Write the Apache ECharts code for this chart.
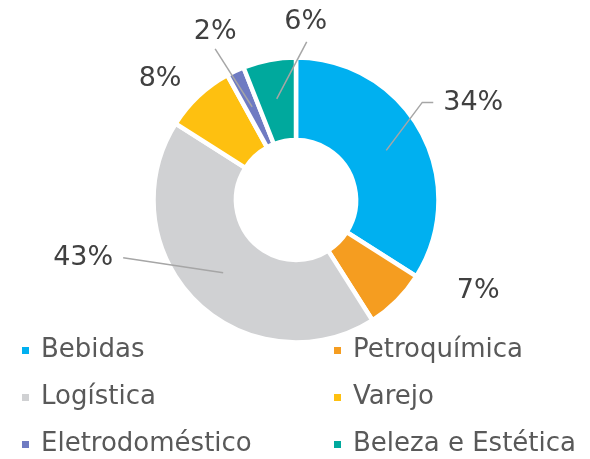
<!DOCTYPE html>
<html>
<head>
<meta charset="utf-8">
<script src="https://cdn.jsdelivr.net/npm/echarts@6/dist/echarts.min.js"></script>
<style>
html, body { margin: 0; padding: 0; background: #fff; }
#chart { width: 590px; height: 459px; }
</style>
</head>
<body>
<div id="chart"></div>
<script>
const categories = ['Bebidas', 'Petroquímica', 'Logística', 'Varejo', 'Eletrodoméstico', 'Beleza e Estética']
const shares = [34, 7, 43, 8, 2, 6]
const colors = ['#00B0F0', '#F59D20', '#D0D1D3', '#FEC010', '#6F7BC2', '#00A99D']

const leftLegend = ['Bebidas', 'Logística', 'Eletrodoméstico']
const rightLegend = ['Petroquímica', 'Varejo', 'Beleza e Estética']

const fontFamily = 'DejaVu Sans'
const cx = 296
const cy = 200
const leadRadius = 103

// where each label sits, as offsets from the start of its leader (tuned by eye)
const labelPlacement = [
  { line: [[36, -48], [47, -48]], text: [57, -47], align: 'left' },
  { line: null, text: [88, 18], align: 'left' },
  { line: [[-100, -15]], text: [-110, -15], align: 'right' },
  { line: null, text: [-44, -46], align: 'right' },
  { line: [[-37, -58]], text: [-37, -75], align: 'center' },
  { line: [[30, -57]], text: [29, -77], align: 'center' }
]

const total = shares.reduce((a, b) => a + b, 0)
let acc = 0
const leadStart = shares.map(v => {
  const mid = (90 - 360 * (acc + v / 2) / total) * Math.PI / 180
  acc += v
  return [cx + leadRadius * Math.cos(mid), cy - leadRadius * Math.sin(mid)]
})

const chart = echarts.init(document.getElementById('chart'))

let legendBase = {
  orient: 'vertical',
  top: 336,
  height: 140,
  padding: 0,
  itemWidth: 9,
  itemHeight: 9,
  itemGap: 18,
  icon: 'rect',
  selectedMode: false,
  textStyle: {
    fontFamily: fontFamily,
    fontSize: 26,
    color: '#595959',
    lineHeight: 29,
    padding: [0, 0, 0, 6]
  }
}

const pieData = categories.map((name, i) => ({ name: name, value: shares[i] }))

const options = {
  color: colors,
  animation: false,
  legend: [
    Object.assign({}, legendBase, { left: 20, data: leftLegend }),
    Object.assign({}, legendBase, { left: 332, data: rightLegend })
  ],
  series: [
    {
      type: 'pie',
      center: [cx, cy],
      radius: [60, 142.5],
      startAngle: 90,
      clockwise: true,
      silent: true,
      itemStyle: {
        borderColor: '#fff',
        borderWidth: 4.5
      },
      label: { show: false },
      labelLine: { show: false },
      data: pieData
    },
    {
      // transparent copy on top, only carries the labels and leaders
      type: 'pie',
      z: 5,
      center: [cx, cy],
      radius: [61, 142],
      startAngle: 90,
      clockwise: true,
      silent: true,
      legendHoverLink: false,
      itemStyle: {
        color: 'rgba(0,0,0,0)',
        borderWidth: 0
      },
      label: {
        show: true,
        position: 'outside',
        formatter: '{c}%',
        fontFamily: fontFamily,
        fontSize: 27,
        color: '#404040'
      },
      labelLine: {
        show: true,
        lineStyle: { color: '#A6A6A6', width: 1.5 }
      },
      labelLayout: function (params) {
        const i = params.dataIndex
        const p = labelPlacement[i]
        const s = leadStart[i]
        const pts = p.line ? [s].concat(p.line.map(d => [s[0] + d[0], s[1] + d[1]])) : [s, s]
        return {
          x: s[0] + p.text[0],
          y: s[1] + p.text[1],
          align: p.align,
          verticalAlign: 'middle',
          labelLinePoints: pts
        }
      },
      data: pieData
    }
  ]
}

chart.setOption(options)
</script>
</body>
</html>
